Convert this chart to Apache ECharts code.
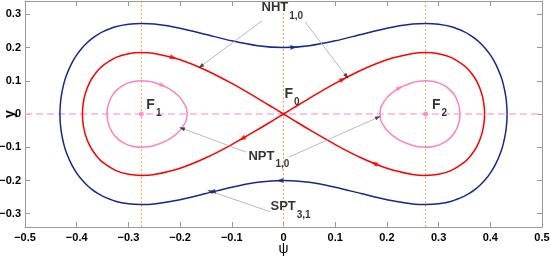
<!DOCTYPE html>
<html><head><meta charset="utf-8">
<script src="https://cdn.jsdelivr.net/npm/echarts@6/dist/echarts.min.js"></script>
<style>html,body{margin:0;padding:0;background:#fff}#c{width:550px;height:257px}</style>
</head><body><div id="c"></div>
<script>
// ---- tick labels ----
const xTicks = [-0.5,-0.4,-0.3,-0.2,-0.1,0,0.1,0.2,0.3,0.4,0.5];
const yTicks = [-0.3,-0.2,-0.1,0,0.1,0.2,0.3];
// ---- fixed points (psi) ----
const fixedPsi = [-0.275, 0, 0.275];
// ---- separatrix (red, NPT/NHT 1,0) ----
const redRightUpper = [[0,0],[0.02,0.019],[0.05,0.0472],[0.1,0.0919],[0.15,0.1317],[0.2,0.1632],[0.25,0.1822],[0.275,0.185],[0.3,0.1816],[0.325,0.1698],[0.35,0.1451],[0.36,0.1295],[0.37,0.1083],[0.375,0.0944],[0.38,0.0767],[0.385,0.0515],[0.388,0.0245],[0.3889,0]];
const redRightLower = [[0.388,-0.0245],[0.385,-0.0515],[0.38,-0.0767],[0.375,-0.0944],[0.37,-0.1083],[0.36,-0.1295],[0.35,-0.1451],[0.325,-0.1698],[0.3,-0.1816],[0.275,-0.185],[0.25,-0.1822],[0.2,-0.1632],[0.15,-0.1317],[0.1,-0.0919],[0.05,-0.0472],[0.02,-0.019],[0,0]];
const redLeftUpper = [[-0.02,0.019],[-0.05,0.0472],[-0.1,0.0919],[-0.15,0.1317],[-0.2,0.1632],[-0.25,0.1822],[-0.275,0.185],[-0.3,0.1816],[-0.325,0.1698],[-0.35,0.1451],[-0.36,0.1295],[-0.37,0.1083],[-0.375,0.0944],[-0.38,0.0767],[-0.385,0.0515],[-0.388,0.0245],[-0.3889,0]];
const redLeftLower = [[-0.388,-0.0245],[-0.385,-0.0515],[-0.38,-0.0767],[-0.375,-0.0944],[-0.37,-0.1083],[-0.36,-0.1295],[-0.35,-0.1451],[-0.325,-0.1698],[-0.3,-0.1816],[-0.275,-0.185],[-0.25,-0.1822],[-0.2,-0.1632],[-0.15,-0.1317],[-0.1,-0.0919],[-0.05,-0.0472],[-0.02,-0.019],[0,0]];
// ---- outer orbit (blue, SPT 3,1) ----
const blueUpper = [[-0.4324,0],[-0.432,0.0211],[-0.43,0.0521],[-0.425,0.0906],[-0.42,0.1158],[-0.41,0.1517],[-0.4,0.1777],[-0.39,0.198],[-0.38,0.2142],[-0.37,0.2274],[-0.36,0.2383],[-0.35,0.2471],[-0.325,0.2623],[-0.3,0.2701],[-0.275,0.2724],[-0.25,0.2705],[-0.2,0.2581],[-0.15,0.2394],[-0.1,0.2201],[-0.05,0.2055],[0,0.2],[0.05,0.2055],[0.1,0.2201],[0.15,0.2394],[0.2,0.2581],[0.25,0.2705],[0.275,0.2724],[0.3,0.2701],[0.325,0.2623],[0.35,0.2471],[0.36,0.2383],[0.37,0.2274],[0.38,0.2142],[0.39,0.198],[0.4,0.1777],[0.41,0.1517],[0.42,0.1158],[0.425,0.0906],[0.43,0.0521],[0.432,0.0211],[0.4324,0]];
const blueLower = [[0.432,-0.0211],[0.43,-0.0521],[0.425,-0.0906],[0.42,-0.1158],[0.41,-0.1517],[0.4,-0.1777],[0.39,-0.198],[0.38,-0.2142],[0.37,-0.2274],[0.36,-0.2383],[0.35,-0.2471],[0.325,-0.2623],[0.3,-0.2701],[0.275,-0.2724],[0.25,-0.2705],[0.2,-0.2581],[0.15,-0.2394],[0.1,-0.2201],[0.05,-0.2055],[0,-0.2],[-0.05,-0.2055],[-0.1,-0.2201],[-0.15,-0.2394],[-0.2,-0.2581],[-0.25,-0.2705],[-0.275,-0.2724],[-0.3,-0.2701],[-0.325,-0.2623],[-0.35,-0.2471],[-0.36,-0.2383],[-0.37,-0.2274],[-0.38,-0.2142],[-0.39,-0.198],[-0.4,-0.1777],[-0.41,-0.1517],[-0.42,-0.1158],[-0.425,-0.0906],[-0.43,-0.0521],[-0.432,-0.0211],[-0.4324,0]];
// ---- inner orbits (pink, NPT 1,0) ----
const pinkRightUpper = [[0.1863,0],[0.188,0.0176],[0.19,0.0259],[0.2,0.0492],[0.21,0.0638],[0.225,0.0792],[0.25,0.0948],[0.2625,0.0987],[0.275,0.1001],[0.2875,0.0986],[0.3,0.0937],[0.315,0.0817],[0.325,0.068],[0.33,0.0581],[0.335,0.0446],[0.34,0.0209],[0.3413,0]];
const pinkRightLower = [[0.34,-0.0209],[0.335,-0.0446],[0.33,-0.0581],[0.325,-0.068],[0.315,-0.0817],[0.3,-0.0937],[0.2875,-0.0986],[0.275,-0.1001],[0.2625,-0.0987],[0.25,-0.0948],[0.225,-0.0792],[0.21,-0.0638],[0.2,-0.0492],[0.19,-0.0259],[0.188,-0.0176],[0.1863,0]];
const pinkLeftUpper = [[-0.3413,0],[-0.34,0.0209],[-0.335,0.0446],[-0.33,0.0581],[-0.325,0.068],[-0.315,0.0817],[-0.3,0.0937],[-0.2875,0.0986],[-0.275,0.1001],[-0.2625,0.0987],[-0.25,0.0948],[-0.225,0.0792],[-0.21,0.0638],[-0.2,0.0492],[-0.19,0.0259],[-0.188,0.0176],[-0.1863,0]];
const pinkLeftLower = [[-0.188,-0.0176],[-0.19,-0.0259],[-0.2,-0.0492],[-0.21,-0.0638],[-0.225,-0.0792],[-0.25,-0.0948],[-0.2625,-0.0987],[-0.275,-0.1001],[-0.2875,-0.0986],[-0.3,-0.0937],[-0.315,-0.0817],[-0.325,-0.068],[-0.33,-0.0581],[-0.335,-0.0446],[-0.34,-0.0209],[-0.3413,0]];
// ---- flow direction arrows: position on curve + direction (deg) ----
const redArrows = [[-0.213,0.1695,-16.4],[0.115,0.1045,27.9],[0.175,-0.1487,157.7],[-0.08,-0.0745,-150.1]];
const blueArrows = [[0.02,0.2008,3.3],[-0.007,-0.2,181.2],[-0.138,-0.2347,-165.6]];
const pinkArrows = [[-0.233,0.0854,-24.2],[0.225,0.0792,28.8]];
// ---- annotation pointers (from, to) ----
const pointers = [
  [[-0.0416,0.2803],[-0.160,0.143]],
  [[0.0416,0.2773],[0.122,0.113]],
  [[-0.0726,-0.1146],[-0.1966,-0.0428]],
  [[0.0100,-0.1300],[0.183,-0.010]],
  [[-0.0261,-0.294],[-0.142,-0.232]]
];
// ---- text labels ----
const labelMain = ['NHT','NPT','SPT','F','F','F'];
const labelSub  = ['1,0','1,0','3,1','0','1','2'];
const labelAt   = [[-0.0416,0.338],[-0.0668,-0.1086],[-0.0242,-0.2597],[0.003,0.0799],[-0.2643,0.046],[0.2882,0.0455]];

const FONT = '"Liberation Sans", Arial, Helvetica, sans-serif';
const BLUE = '#15298c', RED = '#ff0000', PINK = '#ff80c4';
const AX = '#9a9a9a';
const fmt = v => { const r = Math.round(v*10)/10; if (r === 0) return '0'; return (r < 0 ? '\u2212' : '') + Math.abs(r).toFixed(1); };
const tickLabel = {fontFamily: FONT, fontWeight: 'bold', fontSize: 11, color: '#000'};

function curve(data, color, z) {
  return {type:'line', data, symbol:'none', showSymbol:false, smooth:0.25, z, silent:true,
    lineStyle:{color, width:1.5}};
}
function refLine(data, color, type, width) {
  return {type:'line', data, symbol:'none', showSymbol:false, z:1, silent:true,
    lineStyle:{color, type, width}};
}
function arrows(list, color) {
  return {type:'scatter', symbol:'triangle', symbolSize:[5,7], z:6, silent:true,
    itemStyle:{color},
    data: list.map(a => ({value:[a[0],a[1]], symbolRotate: a[2]-90}))};
}

const option = {
  animation:false,
  grid:{left:25, right:8, top:1, bottom:30, outerBoundsMode:'none', containLabel:false},
  xAxis:[
    {type:'value', min:-0.5, max:0.5, interval:0.1, position:'bottom',
     name:'\u03C8', nameLocation:'middle', nameGap:15, nameMoveOverlap:false,
     nameTextStyle:{fontFamily:FONT, fontSize:14, color:'#000'},
     axisLine:{onZero:false, lineStyle:{color:AX}},
     axisTick:{inside:true, length:5, lineStyle:{color:AX}},
     axisLabel:Object.assign({formatter:fmt, margin:5}, tickLabel),
     splitLine:{show:false}},
    {type:'value', min:-0.5, max:0.5, interval:0.1, position:'top',
     axisLine:{onZero:false, lineStyle:{color:AX}},
     axisTick:{inside:true, length:5, lineStyle:{color:AX}},
     axisLabel:{show:false}, splitLine:{show:false}}
  ],
  yAxis:[
    {type:'value', min:-0.34, max:0.34, position:'left',
     name:'y', nameLocation:'middle', nameGap:8, nameRotate:90, nameMoveOverlap:false,
     nameTextStyle:{fontFamily:FONT, fontSize:14, fontWeight:'bold', color:'#000'},
     axisLine:{onZero:false, lineStyle:{color:AX}},
     axisTick:{inside:true, length:5, customValues:yTicks, lineStyle:{color:AX}},
     axisLabel:Object.assign({formatter:fmt, margin:4, customValues:yTicks}, tickLabel),
     splitLine:{show:false}},
    {type:'value', min:-0.34, max:0.34, position:'right',
     axisLine:{onZero:false, lineStyle:{color:AX}},
     axisTick:{inside:true, length:5, customValues:yTicks, lineStyle:{color:AX}},
     axisLabel:{show:false}, splitLine:{show:false}}
  ],
  series:[
    refLine([[fixedPsi[0],-0.34],[fixedPsi[0],0.34]], '#ffa04a', [2,2], 1),
    refLine([[fixedPsi[1],-0.34],[fixedPsi[1],0.34]], '#ffa04a', [2,2], 1),
    refLine([[fixedPsi[2],-0.34],[fixedPsi[2],0.34]], '#ffa04a', [2,2], 1),
    refLine([[xTicks[0],0],[xTicks[xTicks.length-1],0]], '#ffaee0', [7,4], 1.5),
    curve(blueUpper.concat(blueLower), BLUE, 3),
    curve(redRightUpper.concat(redRightLower, redLeftUpper, redLeftLower), RED, 3),
    curve(pinkRightUpper.concat(pinkRightLower), PINK, 3),
    curve(pinkLeftUpper.concat(pinkLeftLower), PINK, 3),
    {type:'scatter', symbolSize:5, z:5, silent:true,
     data:[{value:[fixedPsi[0],0], itemStyle:{color:PINK}},
           {value:[fixedPsi[1],0], symbolSize:3, itemStyle:{color:RED}},
           {value:[fixedPsi[2],0], itemStyle:{color:PINK}}]},
    arrows(redArrows, RED),
    arrows(blueArrows, BLUE),
    arrows(pinkArrows, PINK),
    {type:'line', data:[], z:4, silent:true,
     markLine:{silent:true, symbol:['none','none'], animation:false,
       label:{show:false}, lineStyle:{color:'#a8a8a8', width:0.8, type:'solid'},
       data: pointers.map(p => [{coord:p[0]},{coord:p[1]}])}},
    {id:'pointerHeads', type:'scatter', symbol:'triangle', symbolSize:[4,6], z:5, silent:true,
     itemStyle:{color:'#222'}, data:[]},
    {type:'scatter', symbolSize:1, z:7, silent:true, itemStyle:{color:'rgba(0,0,0,0)'},
     data: labelAt.map((p,i) => ({value:p, label:{show:true, position:[0,0], align:'left', verticalAlign:'top',
        formatter:'{m|' + labelMain[i] + '}{s|' + labelSub[i] + '}',
        rich:{
          m:{fontFamily:FONT, fontWeight:'bold', fontSize:(labelMain[i]==='F'?14:13), color:'#000', lineHeight:16, verticalAlign:'top'},
          s:{fontFamily:FONT, fontWeight:'bold', fontSize:10, color:'#000', lineHeight:12, padding:[10,0,0,1], verticalAlign:'top'}
        }}}))}
  ]
};
const chart = echarts.init(document.getElementById('c'), null, {renderer:'canvas'});
chart.setOption(option);
// orient pointer arrowheads along each pointer, in screen space
const heads = pointers.map(p => {
  const a = chart.convertToPixel({gridIndex:0}, p[0]);
  const b = chart.convertToPixel({gridIndex:0}, p[1]);
  const ang = Math.atan2(-(b[1]-a[1]), b[0]-a[0]) * 180 / Math.PI;
  return {value:p[1], symbolRotate: ang - 90};
});
chart.setOption({series:[{id:'pointerHeads', data:heads}]});
</script></body></html>
